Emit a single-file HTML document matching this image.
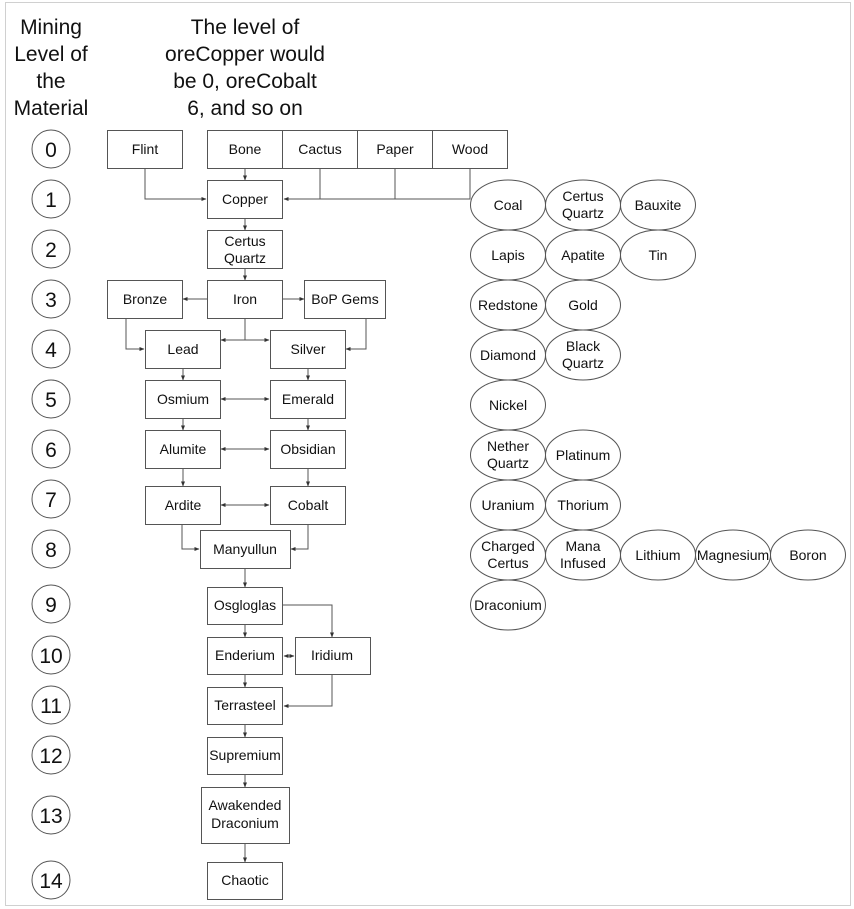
<!DOCTYPE html>
<html><head><meta charset="utf-8"><style>
html,body{margin:0;padding:0;background:#fff;}
svg{display:block;font-family:"Liberation Sans",Arial,Helvetica,sans-serif;}
text{font-family:"Liberation Sans",Arial,Helvetica,sans-serif;fill:#111;}
</style></head><body>
<svg width="854" height="909" viewBox="0 0 854 909" xmlns="http://www.w3.org/2000/svg" font-family="Liberation Sans, Arial, sans-serif">
<defs>
<marker id="a" viewBox="0 0 10 10" refX="9" refY="5" markerWidth="5" markerHeight="5" orient="auto-start-reverse"><path d="M0,1 L10,5 L0,9 z" fill="#333"/></marker>
</defs>
<rect x="5.5" y="2.5" width="845" height="903" fill="none" stroke="#d0d0d0"/>
<g font-size="21" text-anchor="middle">
<text x="51" y="34">Mining</text><text x="51" y="61">Level of</text><text x="51" y="88">the</text><text x="51" y="115">Material</text>
<text x="245" y="34">The level of</text><text x="245" y="61">oreCopper would</text><text x="245" y="88">be 0, oreCobalt</text><text x="245" y="115">6, and so on</text>
</g>
<g fill="none" stroke="#555" stroke-width="1">
<circle cx="51" cy="149" r="19"/><circle cx="51" cy="199" r="19"/><circle cx="51" cy="249" r="19"/><circle cx="51" cy="299" r="19"/><circle cx="51" cy="349" r="19"/><circle cx="51" cy="399" r="19"/><circle cx="51" cy="449" r="19"/><circle cx="51" cy="499" r="19"/><circle cx="51" cy="549" r="19"/><circle cx="51" cy="604" r="19"/><circle cx="51" cy="655" r="19"/><circle cx="51" cy="705" r="19"/><circle cx="51" cy="755" r="19"/><circle cx="51" cy="815" r="19"/><circle cx="51" cy="880" r="19"/>
</g>
<g font-size="21" text-anchor="middle">
<text x="51" y="157">0</text><text x="51" y="207">1</text><text x="51" y="257">2</text><text x="51" y="307">3</text><text x="51" y="357">4</text><text x="51" y="407">5</text><text x="51" y="457">6</text><text x="51" y="507">7</text><text x="51" y="557">8</text><text x="51" y="612">9</text><text x="51" y="663">10</text><text x="51" y="713">11</text><text x="51" y="763">12</text><text x="51" y="823">13</text><text x="51" y="888">14</text>
</g>
<g fill="none" stroke="#555" stroke-width="1">
<path d="M145,168 V199 H206" marker-end="url(#a)"/>
<path d="M245,168 V180" marker-end="url(#a)"/>
<path d="M320,168 V199 M395,168 V199 M470,168 V199 H284" marker-end="url(#a)"/>
<path d="M245,218 V230" marker-end="url(#a)"/>
<path d="M245,268 V280" marker-end="url(#a)"/>
<path d="M207,299 H183" marker-end="url(#a)"/>
<path d="M282,299 H304" marker-end="url(#a)"/>
<path d="M126,318 V349 H144" marker-end="url(#a)"/>
<path d="M366,318 V349 H346" marker-end="url(#a)"/>
<path d="M245,318 V340 H221" marker-end="url(#a)"/>
<path d="M245,340 H269" marker-end="url(#a)"/>
<path d="M183,368 V380" marker-end="url(#a)"/>
<path d="M308,368 V380" marker-end="url(#a)"/>
<path d="M221,399 H269" marker-start="url(#a)" marker-end="url(#a)"/>
<path d="M183,418 V430" marker-end="url(#a)"/>
<path d="M308,418 V430" marker-end="url(#a)"/>
<path d="M221,449 H269" marker-start="url(#a)" marker-end="url(#a)"/>
<path d="M183,468 V486" marker-end="url(#a)"/>
<path d="M308,468 V486" marker-end="url(#a)"/>
<path d="M221,505 H269" marker-start="url(#a)" marker-end="url(#a)"/>
<path d="M182,524 V549 H199" marker-end="url(#a)"/>
<path d="M308,524 V549 H291" marker-end="url(#a)"/>
<path d="M245,568 V587" marker-end="url(#a)"/>
<path d="M282,605 H332 V637" marker-end="url(#a)"/>
<path d="M245,624 V637" marker-end="url(#a)"/>
<path d="M284,656 H294" marker-start="url(#a)" marker-end="url(#a)"/>
<path d="M245,674 V687" marker-end="url(#a)"/>
<path d="M332,674 V706 H284" marker-end="url(#a)"/>
<path d="M245,724 V737" marker-end="url(#a)"/>
<path d="M245,774 V787" marker-end="url(#a)"/>
<path d="M245,843 V862" marker-end="url(#a)"/>
</g>
<g fill="#fff" stroke="#555" stroke-width="1">
<rect x="107.5" y="130.5" width="75" height="38"/>
<rect x="207.5" y="130.5" width="75" height="38"/><rect x="282.5" y="130.5" width="75" height="38"/><rect x="357.5" y="130.5" width="75" height="38"/><rect x="432.5" y="130.5" width="75" height="38"/>
<rect x="207.5" y="180.5" width="75" height="38"/>
<rect x="207.5" y="230.5" width="75" height="38"/>
<rect x="107.5" y="280.5" width="75" height="38"/><rect x="207.5" y="280.5" width="75" height="38"/><rect x="304.5" y="280.5" width="81" height="38"/>
<rect x="145.5" y="330.5" width="75" height="38"/><rect x="270.5" y="330.5" width="75" height="38"/>
<rect x="145.5" y="380.5" width="75" height="38"/><rect x="270.5" y="380.5" width="75" height="38"/>
<rect x="145.5" y="430.5" width="75" height="38"/><rect x="270.5" y="430.5" width="75" height="38"/>
<rect x="145.5" y="486.5" width="75" height="38"/><rect x="270.5" y="486.5" width="75" height="38"/>
<rect x="200.5" y="530.5" width="90" height="38"/>
<rect x="207.5" y="587.5" width="75" height="37"/>
<rect x="207.5" y="637.5" width="75" height="37"/><rect x="295.5" y="637.5" width="75" height="37"/>
<rect x="207.5" y="687.5" width="75" height="37"/>
<rect x="207.5" y="737.5" width="75" height="37"/>
<rect x="201.5" y="787.5" width="88" height="56"/>
<rect x="207.5" y="862.5" width="75" height="37"/>
</g>
<g font-size="14" text-anchor="middle">
<text x="145" y="154">Flint</text><text x="245" y="154">Bone</text><text x="320" y="154">Cactus</text><text x="395" y="154">Paper</text><text x="470" y="154">Wood</text>
<text x="245" y="204">Copper</text>
<text x="245" y="246">Certus</text><text x="245" y="263">Quartz</text>
<text x="145" y="304">Bronze</text><text x="245" y="304">Iron</text><text x="345" y="304">BoP Gems</text>
<text x="183" y="354">Lead</text><text x="308" y="354">Silver</text>
<text x="183" y="404">Osmium</text><text x="308" y="404">Emerald</text>
<text x="183" y="454">Alumite</text><text x="308" y="454">Obsidian</text>
<text x="183" y="510">Ardite</text><text x="308" y="510">Cobalt</text>
<text x="245" y="554">Manyullun</text>
<text x="245" y="610">Osgloglas</text>
<text x="245" y="660">Enderium</text><text x="332" y="660">Iridium</text>
<text x="245" y="710">Terrasteel</text>
<text x="245" y="760">Supremium</text>
<text x="245" y="810">Awakended</text><text x="245" y="828">Draconium</text>
<text x="245" y="885">Chaotic</text>
</g>
<g fill="#fff" stroke="#555" stroke-width="1">
<ellipse cx="508" cy="205" rx="37.5" ry="25"/><ellipse cx="583" cy="205" rx="37.5" ry="25"/><ellipse cx="658" cy="205" rx="37.5" ry="25"/>
<ellipse cx="508" cy="255" rx="37.5" ry="25"/><ellipse cx="583" cy="255" rx="37.5" ry="25"/><ellipse cx="658" cy="255" rx="37.5" ry="25"/>
<ellipse cx="508" cy="305" rx="37.5" ry="25"/><ellipse cx="583" cy="305" rx="37.5" ry="25"/>
<ellipse cx="508" cy="355" rx="37.5" ry="25"/><ellipse cx="583" cy="355" rx="37.5" ry="25"/>
<ellipse cx="508" cy="405" rx="37.5" ry="25"/>
<ellipse cx="508" cy="455" rx="37.5" ry="25"/><ellipse cx="583" cy="455" rx="37.5" ry="25"/>
<ellipse cx="508" cy="505" rx="37.5" ry="25"/><ellipse cx="583" cy="505" rx="37.5" ry="25"/>
<ellipse cx="508" cy="555" rx="37.5" ry="25"/><ellipse cx="583" cy="555" rx="37.5" ry="25"/><ellipse cx="658" cy="555" rx="37.5" ry="25"/><ellipse cx="733" cy="555" rx="37.5" ry="25"/><ellipse cx="808" cy="555" rx="37.5" ry="25"/>
<ellipse cx="508" cy="605" rx="37.5" ry="25"/>
</g>
<g font-size="14" text-anchor="middle">
<text x="508" y="210">Coal</text><text x="583" y="201">Certus</text><text x="583" y="218">Quartz</text><text x="658" y="210">Bauxite</text>
<text x="508" y="260">Lapis</text><text x="583" y="260">Apatite</text><text x="658" y="260">Tin</text>
<text x="508" y="310">Redstone</text><text x="583" y="310">Gold</text>
<text x="508" y="360">Diamond</text><text x="583" y="351">Black</text><text x="583" y="368">Quartz</text>
<text x="508" y="410">Nickel</text>
<text x="508" y="451">Nether</text><text x="508" y="468">Quartz</text><text x="583" y="460">Platinum</text>
<text x="508" y="510">Uranium</text><text x="583" y="510">Thorium</text>
<text x="508" y="551">Charged</text><text x="508" y="568">Certus</text><text x="583" y="551">Mana</text><text x="583" y="568">Infused</text><text x="658" y="560">Lithium</text><text x="733" y="560">Magnesium</text><text x="808" y="560">Boron</text>
<text x="508" y="610">Draconium</text>
</g>
</svg>
</body></html>
